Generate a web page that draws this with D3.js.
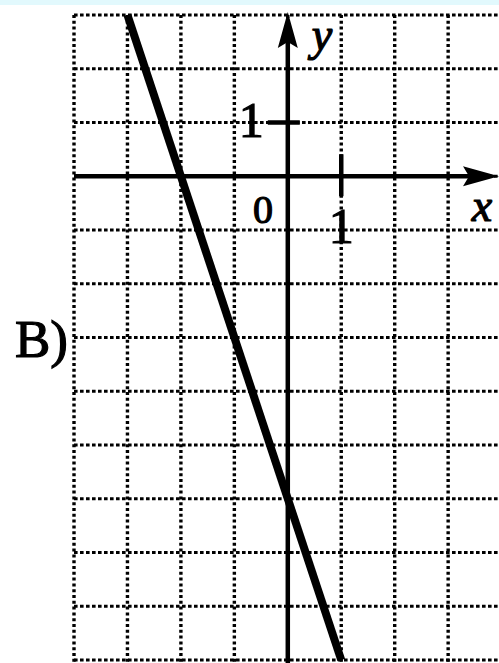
<!DOCTYPE html>
<html>
<head>
<meta charset="utf-8">
<script src="https://cdn.jsdelivr.net/npm/d3@7"></script>
<style>
  html, body { margin: 0; padding: 0; background: #ffffff; }
  svg { display: block; }
  text { font-family: "Liberation Serif", "DejaVu Serif", serif; fill: #000; stroke: #000; stroke-width: 1.2; }
</style>
</head>
<body>
<script>
// Data
const gridX = [-4, -3, -2, -1, 0, 1, 2, 3, 4];
const gridY = [3, 2, 1, 0, -1, -2, -3, -4, -5, -6, -7, -8, -9];
const lineX = [-3, 1];          // y = -3x - 6
const lineY = [3, -9];
const tickXLabels = [{v: 1, t: "1"}];
const tickYLabels = [{v: 1, t: "1"}];
const originLabel = "0";
const panelLabel = "B)";
const axisNames = {x: "x", y: "y"};

const W = 499, H = 663;
const svg = d3.select("body").append("svg").attr("width", W).attr("height", H);

svg.append("rect").attr("x", 0).attr("y", 0).attr("width", W).attr("height", H).attr("fill", "#fff");
svg.append("rect").attr("x", 0).attr("y", 0).attr("width", W).attr("height", 5).attr("fill", "#e2f9fd");

const x = d3.scaleLinear().domain([-4, 4]).range([74, 501.6]);
const y = d3.scaleLinear().domain([3, -9]).range([15, 660]);

// dotted grid
const g = svg.append("g");
g.selectAll("line.v").data(gridX).join("line")
  .attr("x1", d => x(d)).attr("x2", d => x(d))
  .attr("y1", y(3)).attr("y2", H)
  .attr("stroke", "#000").attr("stroke-width", 3.4)
  .attr("stroke-dasharray", "3 2.8");
g.selectAll("line.h").data(gridY).join("line")
  .attr("x1", x(-4)).attr("x2", W)
  .attr("y1", d => y(d)).attr("y2", d => y(d))
  .attr("stroke", "#000").attr("stroke-width", 3.2)
  .attr("stroke-dasharray", "3.6 2.4");

// axes
svg.append("line").attr("x1", x(-4)).attr("x2", 470).attr("y1", y(0)).attr("y2", y(0))
  .attr("stroke", "#000").attr("stroke-width", 4.5);
svg.append("line").attr("x1", x(0)).attr("x2", x(0)).attr("y1", 40).attr("y2", H)
  .attr("stroke", "#000").attr("stroke-width", 4.5);
// arrows
const ax = x(0), ay = y(0);
svg.append("path")
  .attr("d", `M${W},${ay} L${W - 36},${ay - 10} L${W - 30},${ay} L${W - 36},${ay + 10} Z`)
  .attr("fill", "#000");
svg.append("path")
  .attr("d", `M${ax},12 L${ax - 10},48 L${ax},42 L${ax + 10},48 Z`)
  .attr("fill", "#000");

// ticks
tickXLabels.forEach(t => {
  svg.append("line").attr("x1", x(t.v)).attr("x2", x(t.v)).attr("y1", ay - 22).attr("y2", ay + 20)
    .attr("stroke", "#000").attr("stroke-width", 4.5);
  svg.append("text").attr("x", x(t.v)).attr("y", 243).attr("text-anchor", "middle")
    .attr("font-size", 50).text(t.t);
});
tickYLabels.forEach(t => {
  svg.append("line").attr("x1", ax - 20).attr("x2", ax + 12).attr("y1", y(t.v)).attr("y2", y(t.v))
    .attr("stroke", "#000").attr("stroke-width", 4.5);
  svg.append("text").attr("x", ax - 24).attr("y", y(t.v) + 14).attr("text-anchor", "end")
    .attr("font-size", 50).text(t.t);
});
svg.append("text").attr("x", 263).attr("y", 223).attr("text-anchor", "middle")
  .attr("font-size", 40).text(originLabel);

// axis names
svg.append("text").attr("x", 482).attr("y", 221).attr("text-anchor", "middle")
  .attr("font-size", 46).attr("font-style", "italic").text(axisNames.x);
svg.append("text").attr("x", 322).attr("y", 50).attr("text-anchor", "middle")
  .attr("font-size", 46).attr("font-style", "italic").text(axisNames.y);

// panel label
svg.append("text").attr("x", 15).attr("y", 357)
  .attr("font-size", 53).text(panelLabel);

// graph line
const pts = lineX.map((d, i) => [d, lineY[i]]);
svg.append("path").datum(pts)
  .attr("d", d3.line().x(d => x(d[0])).y(d => y(d[1])))
  .attr("stroke", "#000").attr("stroke-width", 8).attr("fill", "none");
</script>
</body>
</html>
